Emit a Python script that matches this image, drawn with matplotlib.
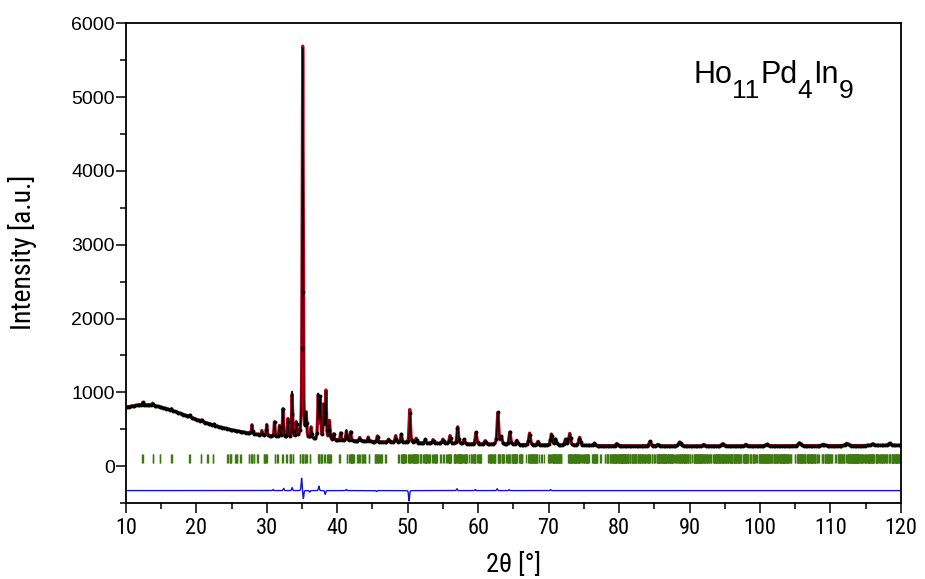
import numpy as np
import matplotlib
matplotlib.use("Agg")
import matplotlib.pyplot as plt
from matplotlib import font_manager
from matplotlib.ticker import MultipleLocator

# ---------------- data ----------------
# background knots: 2theta, intensity
bg_tt = [10, 12, 13.5, 15, 17, 19, 21, 23, 25, 27, 29, 31, 33, 35, 37, 40, 45, 50, 55, 60, 70, 80, 90, 100, 110, 120]
bg_int = [800, 835, 830, 800, 740, 670, 600, 540, 490, 455, 425, 400, 385, 372, 362, 350, 332, 318, 306, 296, 284, 276, 274, 276, 278, 282]

# Bragg peaks: position, height above background
peak_tt = [12.4, 13.8, 16.5, 19.1, 20.8, 22.5, 27.9, 29.3, 30.0, 31.1, 31.8, 32.3, 33.0, 33.6, 34.2,
           35.1, 35.6, 36.3, 37.3, 37.6, 38.1, 38.4, 38.9, 39.5, 40.5, 41.3, 41.9, 43.2, 44.4, 45.7,
           47.3, 48.3, 49.1, 50.3, 51.2, 52.5, 53.6, 55.0, 56.0, 57.1, 58.0, 59.7, 61.0, 62.8, 63.3,
           64.5, 65.5, 67.3, 68.5, 70.4, 71.0, 72.4, 73.0, 74.4, 76.5, 79.7, 84.4, 85.5, 88.6, 92.0,
           94.7, 98.0, 101.0, 105.6, 109.0, 112.3, 116.0, 118.4]
peak_h = [30, 30, 25, 25, 20, 15, 120, 60, 150, 200, 150, 380, 250, 580, 200,
          5310, 300, 150, 580, 550, 450, 650, 250, 80, 100, 130, 120, 50, 60, 80,
          40, 90, 110, 450, 60, 50, 50, 60, 110, 230, 60, 160, 50, 430, 100,
          170, 60, 160, 50, 150, 80, 80, 160, 110, 30, 30, 60, 20, 55, 20,
          30, 20, 20, 40, 20, 30, 20, 30]

# difference-curve features: position, amplitude
diff_tt = [34.95, 35.2, 37.4, 38.3, 50.2, 57.0, 62.7, 32.4, 33.6, 30.9, 36.1, 41.3, 45.6, 59.6, 64.4, 70.3]
diff_amp = [170, -110, 60, -50, -140, 25, 25, 30, 40, 15, -20, 15, -12, 15, 12, 12]
diff_offset = -330

# Bragg reflection markers: Ho11Pd4In9, Cmmm, lattice (A), Cu Ka1 / Ka2
lat_a, lat_b, lat_c = 14.32, 21.52, 3.645
wavelengths = [1.5406, 1.5444]

# ---------------- build curves ----------------
tt = np.arange(10.0, 120.0001, 0.02)
bg = np.interp(tt, bg_tt, bg_int)


def pv(x, x0, fwhm, eta=0.45):
    g = np.exp(-4 * np.log(2) * ((x - x0) / fwhm) ** 2)
    lor = 1.0 / (1.0 + 4 * ((x - x0) / fwhm) ** 2)
    return eta * lor + (1 - eta) * g


calc = bg.copy()
for p, h in zip(peak_tt, peak_h):
    w = 0.08 + 0.0035 * (p - 10)
    calc += h * pv(tt, p, w)

diff = np.zeros_like(tt)
for p, a in zip(diff_tt, diff_amp):
    diff += a * pv(tt, p, 0.16, eta=0.2)
obs = calc + diff

refl = []
for lam in wavelengths:
    for h in range(0, 20):
        for k in range(0, 30):
            for l in range(0, 10):
                if (h + k) % 2 or (h == 0 and k == 0 and l == 0):
                    continue
                inv = (h / lat_a) ** 2 + (k / lat_b) ** 2 + (l / lat_c) ** 2
                s = lam * np.sqrt(inv) / 2
                if s < 1:
                    t2 = 2 * np.degrees(np.arcsin(s))
                    if 10 <= t2 <= 120:
                        refl.append(t2)
refl = np.unique(np.round(refl, 3))

# ---------------- fonts ----------------
names = sorted({f.name for f in font_manager.fontManager.ttflist})
narrow = None
for cand in ['Liberation Sans Narrow', 'Arial Narrow', 'Roboto Condensed', 'Open Sans Condensed',
             'DejaVu Sans Condensed']:
    if cand in names:
        narrow = cand
        break
if narrow is None:
    for n in names:
        if 'Narrow' in n or 'Condensed' in n:
            narrow = n
            break
narrow_kw = dict(family=[narrow, 'DejaVu Sans']) if narrow else dict(family=['Liberation Sans', 'DejaVu Sans'])

plt.rcParams['font.family'] = ['Liberation Sans', 'DejaVu Sans']

# ---------------- plot ----------------
fig = plt.figure(figsize=(9.25, 5.79), dpi=100)
ax = fig.add_axes([0.136, 0.131, 0.838, 0.829])

ax.plot(tt, calc, color='#b80018', lw=2.3, zorder=2)
ax.plot(tt, obs, color='black', lw=0.8, zorder=3)
ax.plot(tt, obs, ls='none', color='black', marker='o', ms=1.8, markevery=12, zorder=3)
ax.vlines(refl, 40, 160, color='#3f7a10', lw=1.0, zorder=1)
ax.plot(tt, diff + diff_offset, color='#1515cc', lw=1.0, zorder=2)

ax.set_xlim(10, 120)
ax.set_ylim(-500, 6000)
ax.xaxis.set_major_locator(MultipleLocator(10))
ax.xaxis.set_minor_locator(MultipleLocator(5))
ax.yaxis.set_minor_locator(MultipleLocator(500))
ax.set_yticks(range(0, 6001, 1000))
ax.tick_params(which='both', direction='out', top=False, right=False, width=1.1, color='black')
ax.tick_params(which='major', length=7)
ax.tick_params(which='minor', length=4)
ax.tick_params(axis='y', labelsize=14, pad=1)
ax.tick_params(axis='x', labelsize=16 if narrow else 14, pad=4)
for lab in ax.get_xticklabels():
    lab.set_family(narrow_kw['family'])
for sp in ax.spines.values():
    sp.set_linewidth(1.3)

ax.set_xlabel('2θ [°]', fontsize=19, labelpad=9, **narrow_kw)
ax.set_ylabel('Intensity [a.u.]', fontsize=20, **narrow_kw)
ax.yaxis.set_label_coords(-0.115, 0.523)

# formula label with large subscripts, drawn piece by piece
pieces = [('Ho', 22, 0), ('11', 19, -15), ('Pd', 22, 0), ('4', 19, -15), ('In', 22, 0), ('9', 19, -15)]
fig.canvas.draw()
renderer = fig.canvas.get_renderer()
x0_px = 693
base_px = 579 - 83
x_px = x0_px
for txt, fs, dy in pieces:
    t = fig.text(x_px / 925, (base_px + dy) / 579, txt, fontsize=fs, ha='left', va='baseline')
    bb = t.get_window_extent(renderer=renderer)
    x_px = bb.x1 + 0.5

fig.savefig('out.png', dpi=100, facecolor='white')
